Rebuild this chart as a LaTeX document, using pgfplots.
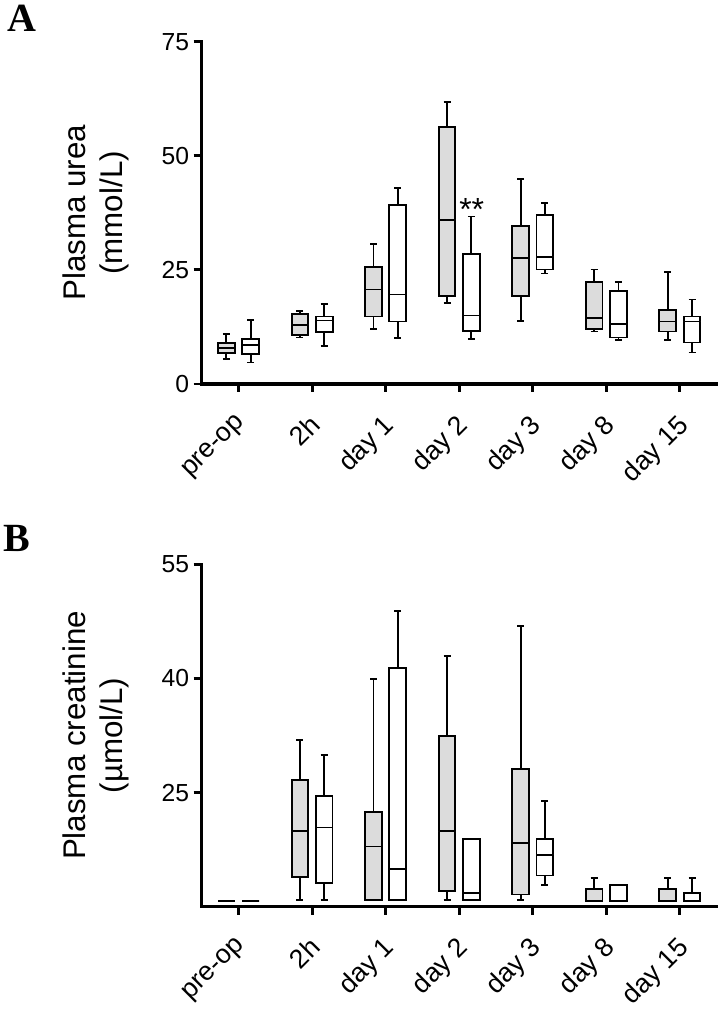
\documentclass[border=0pt]{standalone}
\usepackage{fontspec}
\setmainfont{Liberation Sans}
\newfontfamily\seriffont{Liberation Serif}
\usepackage{pgfplots}
\pgfplotsset{compat=1.18}
\usepgfplotslibrary{statistics}
\definecolor{boxgray}{RGB}{220,220,220}

\pgfplotsset{
  panel/.style={
    scale only axis, width=386.2pt, anchor=south west,
    axis x line*=bottom, axis y line*=left,
    axis line style={line width=2.5pt, line cap=rect},
    xmin=-0.5, xmax=6.5, clip=false,
    xtick={0,...,6}, xticklabels={pre-op,2h,day 1,day 2,day 3,day 8,day 15},
    tick align=outside, major tick length=6pt,
    major tick style={line width=2.2pt, black},
    x tick label style={yshift=-14pt, xshift=-3pt, rotate=45, anchor=north east, font=\fontsize{20}{24}\selectfont, inner sep=1pt},
    y tick label style={font=\fontsize{18.5}{22}\selectfont},
    /pgf/number format/assume math mode=true,
    ylabel style={font=\fontsize{23.5}{28}\selectfont, align=center, at={(axis description cs:-0.205,0.5)}, anchor=center},
    boxplot/box extend=0.227, boxplot/whisker extend=0.095,
    boxplot/draw direction=y,
  },
  gbox/.style={draw=black, fill=boxgray, line width=1.4pt},
  wbox/.style={draw=black, fill=white, line width=1.4pt},
}
% #1 category index, #2 lower whisker, #3 lower quartile, #4 median, #5 upper quartile, #6 upper whisker
\newcommand{\G}[6]{\addplot[gbox, boxplot prepared={draw position=#1-0.165, lower whisker=#2, lower quartile=#3, median=#4, upper quartile=#5, upper whisker=#6}] coordinates {};}
\newcommand{\W}[6]{\addplot[wbox, boxplot prepared={draw position=#1+0.165, lower whisker=#2, lower quartile=#3, median=#4, upper quartile=#5, upper whisker=#6}] coordinates {};}

\begin{document}
\begin{tikzpicture}
\useasboundingbox (0,0) rectangle (540.75pt,759pt);

\begin{axis}[panel, at={(151.3pt,471pt)}, height=256.7pt,
  ymin=0, ymax=75, ytick={0,25,50,75},
  ylabel={Plasma urea\\(mmol/L)}]
\G{0}{5.4}{6.8}{7.8}{8.9}{11.0}
\W{0}{4.7}{6.6}{8.6}{9.9}{14.0}
\G{1}{10.2}{10.7}{13.0}{15.4}{15.9}
\W{1}{8.4}{11.3}{13.9}{14.8}{17.5}
\G{2}{12.1}{14.8}{20.7}{25.6}{30.6}
\W{2}{10.0}{13.7}{19.6}{39.3}{43.0}
\G{3}{17.7}{19.2}{36.0}{56.4}{61.7}
\W{3}{9.9}{11.7}{15.0}{28.4}{36.7}
\G{4}{13.8}{19.3}{27.6}{34.6}{44.9}
\W{4}{24.2}{25.1}{27.9}{37.1}{39.7}
\G{5}{11.5}{12.1}{14.5}{22.3}{25.1}
\W{5}{9.6}{10.2}{13.1}{20.4}{22.4}
\G{6}{9.7}{11.5}{13.7}{16.2}{24.6}
\W{6}{6.9}{9.1}{13.7}{14.8}{18.5}
\node[font=\fontsize{24}{28}\selectfont, yshift=-4pt] at (axis cs:3.17,39.3) {**};
\end{axis}

\begin{axis}[panel, at={(151.3pt,79pt)}, height=256.8pt,
  ymin=10, ymax=55, ytick={25,40,55},
  ylabel={Plasma creatinine\\(\textmu mol/L)}]
\G{0}{10.8}{10.8}{10.8}{10.8}{10.8}
\W{0}{10.8}{10.8}{10.8}{10.8}{10.8}
\G{1}{10.9}{13.9}{19.9}{26.7}{31.9}
\W{1}{10.9}{13.1}{20.4}{24.6}{29.9}
\G{2}{10.9}{10.9}{17.9}{22.4}{39.9}
\W{2}{10.9}{10.9}{14.9}{41.4}{48.9}
\G{3}{10.9}{12.1}{19.9}{32.4}{42.9}
\W{3}{10.9}{10.9}{11.8}{18.9}{18.9}
\G{4}{10.9}{11.6}{18.4}{28.1}{46.9}
\W{4}{12.9}{14.1}{16.8}{18.9}{23.9}
\G{5}{10.8}{10.8}{10.8}{12.3}{13.8}
\W{5}{10.8}{10.8}{10.8}{12.9}{12.9}
\G{6}{10.8}{10.8}{10.8}{12.3}{13.8}
\W{6}{10.8}{10.8}{10.8}{11.8}{13.8}
\end{axis}

\node[anchor=north west, inner sep=0pt, font=\seriffont\bfseries\fontsize{30}{34}\selectfont] at (5.25pt,755.25pt) {A};
\node[anchor=north west, inner sep=0pt, font=\seriffont\bfseries\fontsize{30}{34}\selectfont] at (2.5pt,365.25pt) {B};
\end{tikzpicture}
\end{document}
